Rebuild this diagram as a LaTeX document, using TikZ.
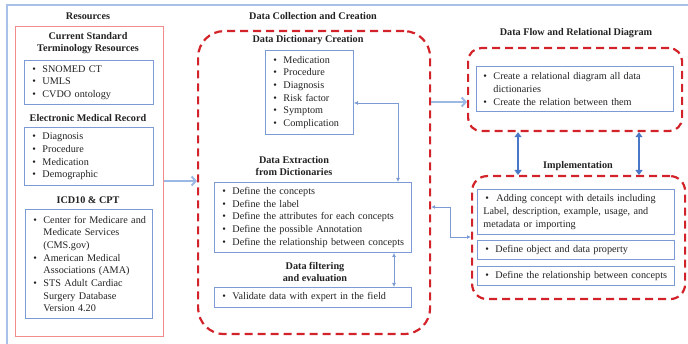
\documentclass[tikz,border=0pt]{standalone}
\usepackage{fontspec}
\setmainfont{Liberation Serif}
\usetikzlibrary{arrows.meta}
\definecolor{frameblue}{HTML}{A9C1E8}
\definecolor{boxblue}{HTML}{7C9BD6}
\definecolor{resred}{HTML}{F28B8B}
\definecolor{dashred}{HTML}{D2232A}
\definecolor{arrlight}{HTML}{9BB9E4}
\definecolor{arrdark}{HTML}{4A78C8}
\definecolor{txt}{HTML}{222222}
\newcommand\B[1]{\mbox{\makebox[10pt][l]{\textbullet}#1}}
\newcommand\C[1]{\mbox{\hspace*{10pt}#1}}
\tikzset{
  every node/.style={font=\fontsize{10.2}{12.7}\selectfont, inner sep=0pt, text=txt},
  head/.style={font=\fontsize{10.2}{12.7}\selectfont\bfseries, align=center},
  bbox/.style={draw=boxblue, line width=0.9pt, anchor=north west, inner xsep=8pt, inner ysep=0pt, align=left},
  dbox/.style={draw=dashred, line width=2.2pt, dash pattern=on 8pt off 5pt, anchor=north west},
  thickarr/.style={draw=arrlight, line width=2pt, -{Straight Barb[length=4pt,width=9pt]}},
  thindbl/.style={draw=boxblue, line width=0.8pt, {Latex[length=4pt,width=4pt]}-{Latex[length=4pt,width=4pt]}},
  dkdbl/.style={draw=arrdark, line width=1.8pt, {Triangle[length=5pt,width=7pt]}-{Triangle[length=5pt,width=7pt]}}
}
\begin{document}
\begin{tikzpicture}[x=1pt,y=-1pt]
\useasboundingbox (0,0) rectangle (688,344);
\clip (0,0) rectangle (688,344);
\draw[frameblue, line width=1.5pt] (7,5) rectangle (720,380);

% Resources
\node[head] (tres) at (88,16) {Resources};
\node[draw=resred, line width=1.4pt, anchor=north west, minimum width=148pt, minimum height=310pt] (res) at (15,26) {};
\node[head] (tcst) at (88,43) {Current Standard\\Terminology Resources};
\node[bbox, text width=113pt, minimum height=44pt] (b1) at (24,60) {\B{SNOMED CT}\\\B{UMLS}\\\B{CVDO ontology}};
\node[head] (temr) at (88,118) {Electronic Medical Record};
\node[bbox, text width=113pt, minimum height=58pt] (b2) at (24,127) {\B{Diagnosis}\\\B{Procedure}\\\B{Medication}\\\B{Demographic}};
\node[head] (ticd) at (88,200) {ICD10 \& CPT};
\node[bbox, text width=111pt, minimum height=109pt] (b3) at (25,209) {\B{Center for Medicare and}\\\C{Medicate Services}\\\C{(CMS.gov)}\\\B{American Medical}\\\C{Associations (AMA)}\\\B{STS Adult Cardiac}\\\C{Surgery Database}\\\C{Version 4.20}};

% Data collection
\node[head] (tdcc) at (313,16) {Data Collection and Creation};
\node[dbox, rounded corners=26pt, minimum width=232pt, minimum height=303pt] (dcc) at (197,30) {};
\node[head] (tddc) at (308,40) {Data Dictionary Creation};
\node[bbox, text width=72pt, minimum height=84pt] (dd) at (265,50) {\B{Medication}\\\B{Procedure}\\\B{Diagnosis}\\\B{Risk factor}\\\B{Symptom}\\\B{Complication}};
\node[head] (tde) at (294,166) {Data Extraction\\from Dictionaries};
\node[bbox, text width=181pt, minimum height=70pt] (de) at (214,182) {\B{Define the concepts}\\\B{Define the label}\\\B{Define the attributes for each concepts}\\\B{Define the possible Annotation}\\\B{Define the relationship between concepts}};
\node[head] (tdf) at (315,272) {Data filtering\\and evaluation};
\node[bbox, text width=181pt, minimum height=20pt] (df) at (214,287) {\B{Validate data with expert in the field}};

% Data flow
\node[head] (tdfr) at (576,33) {Data Flow and Relational Diagram};
\node[dbox, rounded corners=13pt, minimum width=214pt, minimum height=83pt] (dfr) at (467,47) {};
\node[bbox, inner xsep=7pt, text width=183pt, minimum height=45pt] (rel) at (476,66) {\B{Create a relational diagram all data}\\\C{dictionaries}\\\B{Create the relation between them}};

% Implementation
\node[head] (timp) at (578,166) {Implementation};
\node[dbox, rounded corners=15pt, minimum width=213pt, minimum height=123pt] (impl) at (471,175) {};
\node[bbox, inner xsep=6pt, text width=185pt, minimum height=45pt] (ba) at (477,189) {\mbox{\hspace*{2pt}\makebox[11pt][l]{\textbullet}Adding concept with details including}\\\mbox{Label, description, example, usage, and}\\\mbox{metadata or importing}};
\node[bbox, text width=181pt, minimum height=19pt] (bb) at (477,240) {\B{Define object and data property}};
\node[bbox, text width=181pt, minimum height=19pt] (bc) at (477,266) {\B{Define the relationship between concepts}};

% helper coordinates
\coordinate (y181) at (0,181);
\coordinate (y103) at (0,103);
\coordinate (y102) at (0,102);
\coordinate (y207) at (0,207);
\coordinate (y237) at (0,237);
\coordinate (x398) at (398,0);
\coordinate (x394) at (394,0);
\coordinate (x450) at (450,0);
\coordinate (x518) at (518,0);
\coordinate (x639) at (639,0);

% connectors
\draw[thickarr] (res.east |- y181) -- (dcc.west |- y181);
\draw[thindbl] (dd.east |- y103) -| (de.north -| x398);
\draw[thindbl] (de.south -| x394) -- (df.north -| x394);
\draw[thickarr] (dcc.east |- y102) -- (dfr.west |- y102);
\draw[thindbl] (dcc.east |- y207) -| (x450 |- y237) -- (impl.west |- y237);
\draw[dkdbl] (dfr.south -| x518) -- (impl.north -| x518);
\draw[dkdbl] (dfr.south -| x639) -- (impl.north -| x639);
\end{tikzpicture}
\end{document}
